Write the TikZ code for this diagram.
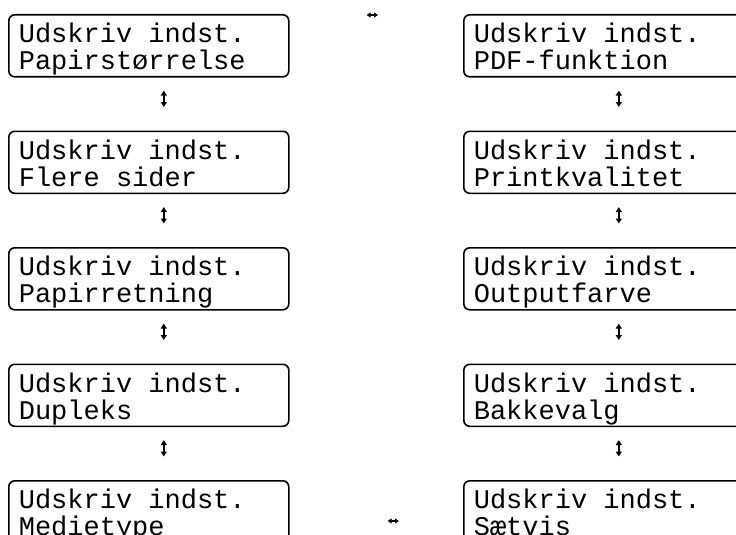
\documentclass[tikz,border=0pt]{standalone}
\usepackage{fontspec}
\setmonofont{Liberation Mono}
\usetikzlibrary{arrows.meta}
\newcommand\lsp{\hbox to 0.6em{}}
\tikzset{
  lcd/.style={draw, line width=1.6pt, rounded corners=6pt, anchor=north west,
    text width=260pt, minimum height=62pt, inner xsep=10pt, inner ysep=0pt,
    text height=28pt, text depth=34pt, align=left,
    font=\ttfamily\fontsize{27}{27}\selectfont},
  varrow/.style={line width=1.6pt, {Triangle[length=5pt,width=6pt]}-{Triangle[length=5pt,width=6pt]}},
  harrow/.style={line width=1.5pt, {Triangle[length=4pt,width=5pt]}-{Triangle[length=4pt,width=5pt]}}
}
\begin{document}
\begin{tikzpicture}[x=1pt,y=-1pt]
\useasboundingbox (0,0) rectangle (736,535);
\clip (0,0) rectangle (736,535);
\node[lcd] (l1) at (8,14) {Udskriv\lsp indst.\\Papirstørrelse};
\node[lcd] (l2) at (8,130.5) {Udskriv\lsp indst.\\Flere\lsp sider};
\node[lcd] (l3) at (8,247) {Udskriv\lsp indst.\\Papirretning};
\node[lcd] (l4) at (8,363.5) {Udskriv\lsp indst.\\Dupleks};
\node[lcd] (l5) at (8,480) {Udskriv\lsp indst.\\Medietype};
\node[lcd] (r1) at (463,14) {Udskriv\lsp indst.\\PDF-funktion};
\node[lcd] (r2) at (463,130.5) {Udskriv\lsp indst.\\Printkvalitet};
\node[lcd] (r3) at (463,247) {Udskriv\lsp indst.\\Outputfarve};
\node[lcd] (r4) at (463,363.5) {Udskriv\lsp indst.\\Bakkevalg};
\node[lcd] (r5) at (463,480) {Udskriv\lsp indst.\\Sætvis};
\foreach \a/\b in {l1/l2,l2/l3,l3/l4,l4/l5,r1/r2,r2/r3,r3/r4,r4/r5}
  \draw[varrow] ([xshift=15pt,yshift=-13pt]\a.south) -- ([xshift=15pt,yshift=23.5pt]\b.north);
\draw[harrow] ([xshift=77pt,yshift=-1pt]l1.north east) -- ([xshift=-85pt,yshift=-1pt]r1.north west);
\draw[harrow] ([xshift=98pt,yshift=-41pt]l5.north east) -- ([xshift=-64pt,yshift=-41pt]r5.north west);
\end{tikzpicture}
\end{document}
